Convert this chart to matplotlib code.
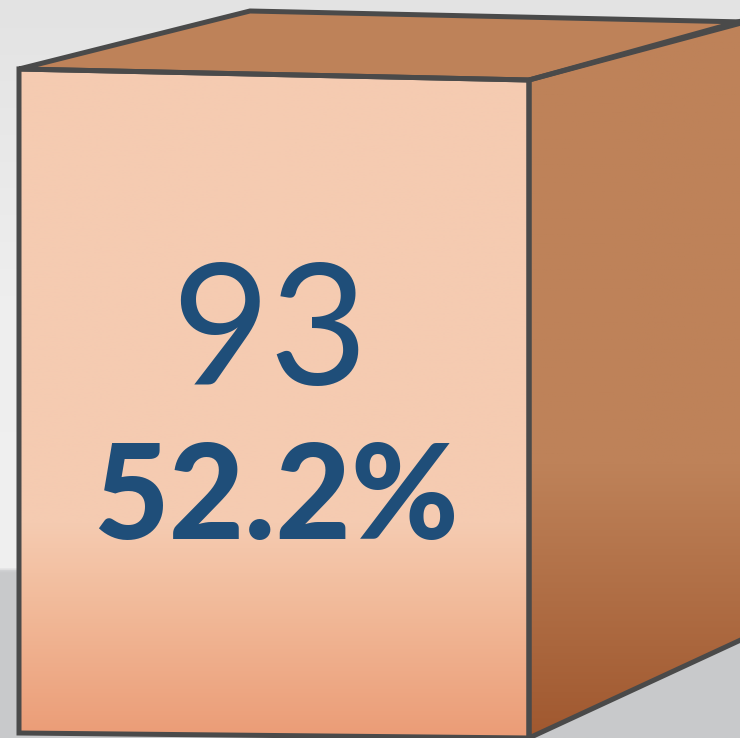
import numpy as np
import matplotlib.pyplot as plt
from matplotlib.patches import Polygon
from matplotlib.colors import to_rgb

# data
count = [93]
share = [52.2]

W, H = 740, 738
fig = plt.figure(figsize=(W / 100, H / 100), dpi=100)
ax = fig.add_axes([0, 0, 1, 1])
ax.set_xlim(0, W)
ax.set_ylim(H, 0)
ax.axis('off')


def vgrad(stops, n=400):
    # stops: list of (pos 0..1, color)
    ys = np.linspace(0, 1, n)
    pos = [s[0] for s in stops]
    cols = np.array([to_rgb(s[1]) for s in stops])
    img = np.stack([np.interp(ys, pos, cols[:, i]) for i in range(3)], axis=-1)
    return img[:, None, :]


# background
bg = vgrad([(0, '#e3e3e3'), (0.4, '#eeeeee'), (0.77, '#f0f0f0'), (0.775, '#c9cacc'), (1, '#c8c9cb')])
ax.imshow(bg, extent=[0, W, H, 0], aspect='auto', zorder=0)

# box geometry
front = [(19, 69), (529, 80), (529, 738), (19, 733)]
top = [(19, 69), (250, 11), (745, 22), (529, 80)]
right = [(529, 80), (745, 20), (745, 638), (529, 738)]

front_p = Polygon(front, closed=True, facecolor='none', edgecolor='none')
right_p = Polygon(right, closed=True, facecolor='none', edgecolor='none')
ax.add_patch(front_p)
ax.add_patch(right_p)

im = ax.imshow(vgrad([(0, '#f5cbb1'), (0.68, '#f5cbb1'), (0.79, '#f2bc9c'), (1, '#eb9c76')]),
               extent=[19, 529, 738, 69], aspect='auto', zorder=1)
im.set_clip_path(front_p)
im2 = ax.imshow(vgrad([(0, '#be8259'), (0.62, '#be8259'), (1, '#a0582f')]),
                extent=[529, 745, 738, 20], aspect='auto', zorder=1)
im2.set_clip_path(right_p)
ax.add_patch(Polygon(top, closed=True, facecolor='#be8259', edgecolor='none', zorder=1))

ec = '#4a4a4a'
for poly in (front, top, right):
    ax.add_patch(Polygon(poly, closed=True, facecolor='none', edgecolor=ec,
                         linewidth=3.6, joinstyle='miter', zorder=3))

ax.text(270, 337, f'{count[0]}', ha='center', va='center', fontsize=122,
        family='Lato', color='#1f4e79', zorder=4)
ax.text(276, 501, f'{share[0]:.1f}%', ha='center', va='center', fontsize=94,
        family='Lato', fontweight='black', color='#1f4e79', zorder=4)

fig.savefig('out.png', dpi=100)
